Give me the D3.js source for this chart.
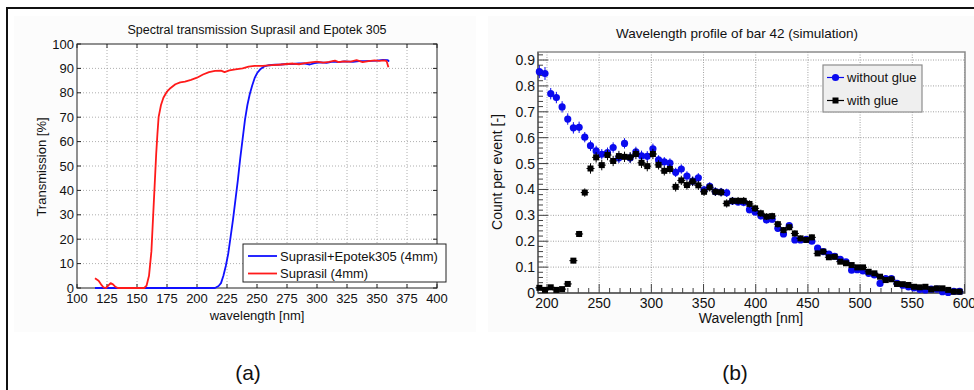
<!DOCTYPE html>
<html><head><meta charset="utf-8">
<script src="https://cdn.jsdelivr.net/npm/d3@7"></script>
<style>
body{margin:0;background:#fff}
svg{display:block}
text{font-family:"Liberation Sans",Arial,Helvetica,sans-serif;fill:#111}
</style>
</head><body>
<svg id="c" width="974" height="390"></svg>
<script>
// ---------- Panel (a) data ----------
const leftTitle = "Spectral transmission Suprasil and Epotek 305";
const leftXTicks = [100,125,150,175,200,225,250,275,300,325,350,375,400];
const leftYTicks = [0,10,20,30,40,50,60,70,80,90,100];
const seriesNamesA = ["Suprasil+Epotek305 (4mm)", "Suprasil (4mm)"];
const epotekWl = [115,130,150,170,190,205,215,218,220,222,224,226,228,230,232,234,236,238,240,242,244,246,248,250,253,256,260,265,270,275,280,285,290,294,298,303,308,313,318,323,330,335,340,345,350,355,359,360];
const epotekT  = [0,0,0,0,0,0,0,0.8,2,5,9,14,21,28,36,44,53,61,69,75,79.5,83,86,88,89.8,90.8,91.3,91.5,91.6,91.8,91.8,92,92,91.6,92.2,92.5,92.3,92.8,92.6,92.9,92.7,93,93,93.1,93.2,93.5,93.4,92.8];
const suprasilWl = [115,118,120,122,124,126,128,130,132,134,140,150,156,158,160,162,163,164,165,166,167,168,170,172,175,178,182,186,190,195,200,205,210,215,220,223,227,232,238,243,248,255,262,268,275,280,285,290,295,300,305,310,315,318,322,328,333,338,343,348,352,356,358,359.5];
const suprasilT  = [4,3,1.5,0.3,0,1,2,1.5,0.5,0,0,0,0,1,5,15,25,35,45,55,63,70,75,78,80.5,82,83.5,84.3,84.6,85.3,86.2,87.5,88.5,89,89.1,88.5,89.2,89.6,90,90.7,91,91,91.3,91.5,91.8,92,91.7,92.2,92.5,92.8,92.4,92.7,93.2,92.6,92.9,92.8,93.4,92.6,93,93.3,93.1,93.3,93,90.5];

// ---------- Panel (b) data ----------
const rightTitle = "Wavelength profile of bar 42 (simulation)";
const rightXTicks = [200,250,300,350,400,450,500,550,600];
const rightYTicks = [0,0.1,0.2,0.3,0.4,0.5,0.6,0.7,0.8,0.9];
const seriesNamesB = ["without glue", "with glue"];
const binCenters = [192.7,198.1,203.6,209.0,214.5,219.9,225.3,230.8,236.2,241.7,
  247.1,252.5,258.0,263.4,268.9,274.3,279.7,285.2,290.6,296.1,
  301.5,306.9,312.4,317.8,323.3,328.7,334.1,339.6,345.0,350.5,
  355.9,361.3,366.8,372.2,377.7,383.1,388.5,394.0,399.4,404.9,
  410.3,415.7,421.2,426.6,432.1,437.5,442.9,448.4,453.8,459.3,
  464.7,470.1,475.6,481.0,486.5,491.9,497.3,502.8,508.2,513.7,
  519.1,524.5,530.0,535.4,540.9,546.3,551.7,557.2,562.6,568.1,
  573.5,578.9,584.4,589.8,595.3];
const withoutGlue = [0.855,0.848,0.770,0.755,0.719, 0.672,0.638,0.640,0.602,0.569,
  0.549,0.536,0.542,0.562,0.522, 0.578,0.522,0.545,0.530,0.528,
  0.557,0.514,0.507,0.502,0.466, 0.479,0.452,0.432,0.445,0.398,
  0.412,0.392,0.390,0.387,0.355, 0.352,0.350,0.322,0.313,0.298,
  0.282,0.285,0.250,0.228,0.260, 0.205,0.205,0.207,0.200,0.173,
  0.160,0.150,0.142,0.130,0.120, 0.088,0.090,0.085,0.076,0.070,
  0.037,0.056,0.056,0.037,0.030, 0.024,0.020,0.014,0.012,0.015,
  0.015,0.005,0.002,0.006,0.006];
const withoutGlueErr = [0.025,0.025,0.022,0.022,0.022, 0.022,0.022,0.022,0.02,0.02,
  0.02,0.02,0.02,0.02,0.02, 0.02,0.02,0.02,0.02,0.02,
  0.02,0.018,0.018,0.018,0.018, 0.018,0.018,0.018,0.018,0.016,
  0.016,0.016,0.016,0.016,0.015, 0.015,0.015,0.014,0.014,0.014,
  0.013,0.013,0.013,0.012,0.012, 0.012,0.011,0.011,0.011,0.01,
  0.01,0.01,0.009,0.009,0.009, 0.008,0.008,0.008,0.007,0.007,
  0.006,0.006,0.006,0.005,0.005, 0.005,0.004,0.004,0.004,0.003,
  0.003,0.003,0.002,0.002,0.002];
const withGlue = [0.020,0.012,0.022,0.012,0.015, 0.035,0.125,0.228,0.388,0.481,
  0.524,0.494,0.533,0.510,0.529, 0.526,0.524,0.537,0.503,0.490,
  0.537,0.495,0.472,0.479,0.410, 0.435,0.417,0.431,0.416,0.391,
  0.408,0.391,0.389,0.346,0.356, 0.356,0.356,0.344,0.327,0.308,
  0.295,0.297,0.266,0.243,0.254, 0.230,0.211,0.205,0.215,0.153,
  0.160,0.138,0.140,0.121,0.115, 0.108,0.099,0.099,0.082,0.076,
  0.063,0.050,0.053,0.035,0.034, 0.031,0.024,0.022,0.024,0.014,
  0.018,0.018,0.012,0.005,0.005];
const withGlueErr = [0.005,0.004,0.005,0.004,0.004, 0.006,0.01,0.012,0.016,0.02,
  0.02,0.02,0.02,0.02,0.02, 0.02,0.02,0.02,0.02,0.02,
  0.02,0.018,0.018,0.018,0.018, 0.018,0.018,0.018,0.018,0.016,
  0.016,0.016,0.016,0.016,0.015, 0.015,0.015,0.014,0.014,0.014,
  0.013,0.013,0.013,0.012,0.012, 0.012,0.011,0.011,0.011,0.01,
  0.01,0.01,0.009,0.009,0.009, 0.008,0.008,0.008,0.007,0.007,
  0.006,0.006,0.006,0.005,0.005, 0.005,0.004,0.004,0.004,0.003,
  0.003,0.003,0.002,0.002,0.002];

const svg = d3.select("#c");

// faint figure backgrounds
svg.append("rect").attr("x",14).attr("y",16).attr("width",462).attr("height",316).attr("fill","#fcfcfc");
svg.append("rect").attr("x",488).attr("y",16).attr("width",486).attr("height",316).attr("fill","#fbfbfb");

// outer frame lines
svg.append("line").attr("x1",6).attr("x2",974).attr("y1",8).attr("y2",8).attr("stroke","#111").attr("stroke-width",2);
svg.append("line").attr("x1",7).attr("x2",7).attr("y1",7).attr("y2",390).attr("stroke","#111").attr("stroke-width",2);

// ================= Panel (a) =================
(function(){
  const g = svg.append("g");
  const x = d3.scaleLinear().domain([100,400]).range([77,437]);
  const y = d3.scaleLinear().domain([0,100]).range([288,44]);
  g.append("rect").attr("x",77).attr("y",44).attr("width",360).attr("height",244).attr("fill","#fff");
  // grid
  g.selectAll(".gx").data(leftXTicks.slice(1,-1)).join("line")
    .attr("x1",d=>x(d)).attr("x2",d=>x(d)).attr("y1",44).attr("y2",288)
    .attr("stroke","#9a9a9a").attr("stroke-width",0.8).attr("stroke-dasharray","1,2");
  g.selectAll(".gy").data(leftYTicks.slice(1,-1)).join("line")
    .attr("x1",77).attr("x2",437).attr("y1",d=>y(d)).attr("y2",d=>y(d))
    .attr("stroke","#9a9a9a").attr("stroke-width",0.8).attr("stroke-dasharray","1,2");
  // box
  g.append("rect").attr("x",77).attr("y",44).attr("width",360).attr("height",244)
    .attr("fill","none").attr("stroke","#222").attr("stroke-width",1);
  // ticks
  leftXTicks.forEach(t=>{
    g.append("line").attr("x1",x(t)).attr("x2",x(t)).attr("y1",288).attr("y2",284).attr("stroke","#222");
    g.append("line").attr("x1",x(t)).attr("x2",x(t)).attr("y1",44).attr("y2",48).attr("stroke","#222");
  });
  leftYTicks.forEach(t=>{
    g.append("line").attr("x1",77).attr("x2",81).attr("y1",y(t)).attr("y2",y(t)).attr("stroke","#222");
    g.append("line").attr("x1",437).attr("x2",433).attr("y1",y(t)).attr("y2",y(t)).attr("stroke","#222");
  });
  g.selectAll(".xl").data(leftXTicks).join("text")
    .attr("x",d=>x(d)).attr("y",303).attr("text-anchor","middle").attr("font-size",13).text(d=>d);
  g.selectAll(".yl").data(leftYTicks).join("text")
    .attr("x",74).attr("y",d=>y(d)+4.5).attr("text-anchor","end").attr("font-size",13).text(d=>d);
  g.append("text").attr("x",257).attr("y",34).attr("text-anchor","middle").attr("font-size",12.5).text(leftTitle);
  g.append("text").attr("x",257).attr("y",320).attr("text-anchor","middle").attr("font-size",13).text("wavelength [nm]");
  g.append("text").attr("transform","translate(46,167) rotate(-90)").attr("text-anchor","middle").attr("font-size",13).text("Transmission [%]");
  const line = d3.line().x(d=>x(d[0])).y(d=>y(d[1]));
  g.append("path").datum(d3.zip(epotekWl,epotekT)).attr("d",line)
    .attr("fill","none").attr("stroke","#1010ff").attr("stroke-width",1.8).attr("stroke-linejoin","round");
  g.append("path").datum(d3.zip(suprasilWl,suprasilT)).attr("d",line)
    .attr("fill","none").attr("stroke","#ff1a1a").attr("stroke-width",1.8).attr("stroke-linejoin","round");
  // legend
  g.append("rect").attr("x",243).attr("y",244).attr("width",203).attr("height",38)
    .attr("fill","#fff").attr("stroke","#222").attr("stroke-width",1);
  const cols = ["#1010ff","#ff1a1a"];
  seriesNamesA.forEach((n,i)=>{
    const yy = 256 + i*17.5;
    g.append("line").attr("x1",248).attr("x2",277).attr("y1",yy).attr("y2",yy).attr("stroke",cols[i]).attr("stroke-width",1.8);
    g.append("text").attr("x",280).attr("y",yy+4.5).attr("font-size",13).text(n);
  });
  svg.append("text").attr("x",248).attr("y",380).attr("text-anchor","middle").attr("font-size",21).attr("fill","#222").text("(a)");
})();

// ================= Panel (b) =================
(function(){
  const g = svg.append("g");
  const L=538, R=965, T=52, B=293;
  const x = d3.scaleLinear().domain([191.4,600.5]).range([L,R]);
  const y = d3.scaleLinear().domain([0,0.931]).range([B,T]);
  g.append("rect").attr("x",L).attr("y",T).attr("width",R-L).attr("height",B-T).attr("fill","#fff");
  // grid
  g.selectAll(".gx").data(rightXTicks).join("line")
    .attr("x1",d=>x(d)).attr("x2",d=>x(d)).attr("y1",T).attr("y2",B)
    .attr("stroke","#8a8a8a").attr("stroke-width",0.8).attr("stroke-dasharray","1,1.5");
  g.selectAll(".gy").data(rightYTicks.slice(1)).join("line")
    .attr("x1",L).attr("x2",R).attr("y1",d=>y(d)).attr("y2",d=>y(d))
    .attr("stroke","#8a8a8a").attr("stroke-width",0.8).attr("stroke-dasharray","1,1.5");
  // frame
  g.append("rect").attr("x",L).attr("y",T).attr("width",R-L).attr("height",B-T)
    .attr("fill","none").attr("stroke","#8c8c8c").attr("stroke-width",1.5);
  g.append("line").attr("x1",L).attr("x2",L).attr("y1",T).attr("y2",B).attr("stroke","#555").attr("stroke-width",1.3);
  g.append("line").attr("x1",L).attr("x2",R).attr("y1",B).attr("y2",B).attr("stroke","#555").attr("stroke-width",1.3);
  // x ticks: majors & minors (every 10 nm)
  const xMinor = d3.range(200,601,10);
  xMinor.forEach(t=>{
    const maj = rightXTicks.includes(t);
    g.append("line").attr("x1",x(t)).attr("x2",x(t)).attr("y1",B).attr("y2",B-(maj?9:5)).attr("stroke","#444").attr("stroke-width",1);
  });
  const yMinor = d3.range(0,0.931,0.02);
  yMinor.forEach(t=>{
    const maj = Math.abs(Math.round(t*10)-t*10)<1e-6;
    g.append("line").attr("x1",L).attr("x2",L+(maj?10:5)).attr("y1",y(t)).attr("y2",y(t)).attr("stroke","#444").attr("stroke-width",1);
  });
  g.selectAll(".xl").data(rightXTicks).join("text")
    .attr("x",d=>x(d)).attr("y",308).attr("text-anchor","middle").attr("font-size",14).text(d=>d);
  g.selectAll(".yl").data(rightYTicks).join("text")
    .attr("x",535).attr("y",d=>y(d)+5).attr("text-anchor","end").attr("font-size",14).text(d=>d===0?"0":d3.format(".1f")(d));
  g.append("text").attr("x",737).attr("y",38).attr("text-anchor","middle").attr("font-size",13.5).text(rightTitle);
  g.append("text").attr("x",751).attr("y",323).attr("text-anchor","middle").attr("font-size",14).text("Wavelength [nm]");
  g.append("text").attr("transform","translate(502,172) rotate(-90)").attr("text-anchor","middle").attr("font-size",14).text("Count per event [-]");

  const marks = g.append("g");
  const blue = "#0a0aee";
  // without glue
  binCenters.forEach((c,i)=>{
    const v = withoutGlue[i], e = withoutGlueErr[i];
    marks.append("line").attr("x1",x(c)).attr("x2",x(c)).attr("y1",y(v-e)).attr("y2",y(Math.min(v+e,0.931))).attr("stroke",blue).attr("stroke-width",1);
    marks.append("line").attr("x1",x(c)-2.5).attr("x2",x(c)+2.5).attr("y1",y(v)).attr("y2",y(v)).attr("stroke",blue).attr("stroke-width",1);
    marks.append("circle").attr("cx",x(c)).attr("cy",y(v)).attr("r",3.6).attr("fill",blue);
  });
  // with glue
  binCenters.forEach((c,i)=>{
    const v = withGlue[i], e = withGlueErr[i];
    marks.append("line").attr("x1",x(c)).attr("x2",x(c)).attr("y1",y(v-e)).attr("y2",y(v+e)).attr("stroke","#000").attr("stroke-width",1);
    marks.append("line").attr("x1",x(c)-4).attr("x2",x(c)+4).attr("y1",y(v)).attr("y2",y(v)).attr("stroke","#000").attr("stroke-width",1);
    marks.append("rect").attr("x",x(c)-3).attr("y",y(v)-3).attr("width",6).attr("height",6).attr("fill","#000");
  });
  // legend
  g.append("rect").attr("x",823).attr("y",65).attr("width",99).attr("height",47)
    .attr("fill","#efefef").attr("stroke","#8c8c8c").attr("stroke-width",1.2);
  const lc = [blue,"#000"];
  seriesNamesB.forEach((n,i)=>{
    const yy = 77.5 + i*23;
    g.append("line").attr("x1",827).attr("x2",844).attr("y1",yy).attr("y2",yy).attr("stroke",lc[i]).attr("stroke-width",1.2);
    if(i===0) g.append("circle").attr("cx",835.5).attr("cy",yy).attr("r",3.6).attr("fill",lc[i]);
    else g.append("rect").attr("x",832.5).attr("y",yy-3).attr("width",6).attr("height",6).attr("fill",lc[i]);
    g.append("text").attr("x",847).attr("y",yy+4.5).attr("font-size",13).text(n);
  });
  svg.append("text").attr("x",735).attr("y",380).attr("text-anchor","middle").attr("font-size",21).attr("fill","#222").text("(b)");
})();
</script>
</body></html>
